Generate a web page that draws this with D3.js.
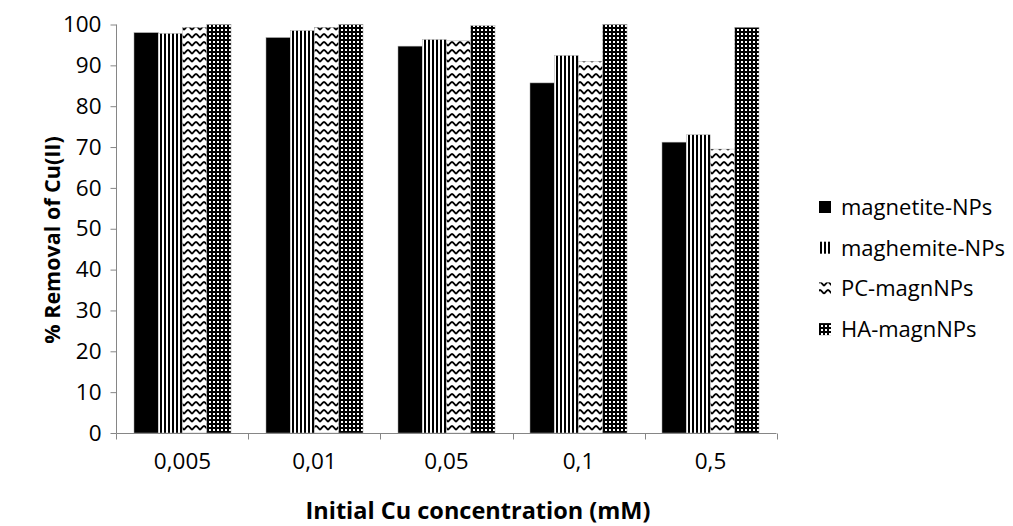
<!DOCTYPE html>
<html><head><meta charset="utf-8">
<script src="https://cdn.jsdelivr.net/npm/d3@7"></script>
<style>body{margin:0;background:#fff;} svg{display:block;font-family:"Open Sans",sans-serif;}</style>
</head><body>
<svg id="c" width="1013" height="526"></svg>
<script>
const categories = ["0,005","0,01","0,05","0,1","0,5"];
const seriesNames = ["magnetite-NPs","maghemite-NPs","PC-magnNPs","HA-magnNPs"];
const magnetite = [98.0, 96.8, 94.7, 85.7, 71.2];
const maghemite = [97.8, 98.5, 96.3, 92.4, 73.0];
const pcMagn    = [99.3, 99.3, 96.0, 91.0, 69.5];
const haMagn    = [100, 100, 99.7, 100, 99.3];
const yTicks = [0,10,20,30,40,50,60,70,80,90,100];
const values = [magnetite, maghemite, pcMagn, haMagn];

const svg = d3.select("#c");
const defs = svg.append("defs");
// patterns
const p0 = defs.append("pattern").attr("id","pat0").attr("patternUnits","userSpaceOnUse").attr("width",4).attr("height",4);
p0.append("rect").attr("width",4).attr("height",4).attr("fill","#000");
const p1 = defs.append("pattern").attr("id","pat1").attr("patternUnits","userSpaceOnUse").attr("width",4).attr("height",4);
p1.append("rect").attr("width",4).attr("height",4).attr("fill","#fff");
p1.append("rect").attr("width",2).attr("height",4).attr("fill","#000");
const p2 = defs.append("pattern").attr("id","pat2").attr("patternUnits","userSpaceOnUse").attr("width",8).attr("height",8);
p2.append("rect").attr("width",8).attr("height",8).attr("fill","#fff");
p2.append("path").attr("d","M0,6 L1.5,4 L3,2.5 L4,2 L5,2.5 L6.5,4 L8,6").attr("fill","none").attr("stroke","#000").attr("stroke-width",1.8);
const p3 = defs.append("pattern").attr("id","pat3").attr("patternUnits","userSpaceOnUse").attr("width",4).attr("height",4);
p3.append("rect").attr("width",4).attr("height",4).attr("fill","#000");
p3.append("rect").attr("x",1).attr("y",1).attr("width",2).attr("height",2).attr("fill","#fff");
const fills = ["url(#pat0)","url(#pat1)","url(#pat2)","url(#pat3)"];

const x0 = d3.scaleBand().domain(categories).range([116.5,776.5]).paddingInner(0.265).paddingOuter(0.1325);
const x1 = d3.scaleBand().domain(seriesNames).range([0, x0.bandwidth()]);
const y = d3.scaleLinear().domain([0,100]).range([433, 24.5]);

// bars
const g = svg.append("g");
categories.forEach((c,ci)=>{
  seriesNames.forEach((s,si)=>{
    const v = values[si][ci];
    g.append("rect")
      .attr("x", x0(c)+x1(s)).attr("y", y(v))
      .attr("width", x1.bandwidth()).attr("height", y(0)-y(v))
      .attr("fill", fills[si]).attr("stroke","#aaa").attr("stroke-width",0.5);
  });
});

// y axis
const ya = svg.append("g").attr("transform","translate(116.5,0)")
  .call(d3.axisLeft(y).tickValues(yTicks).tickSize(6).tickPadding(9).tickFormat(d3.format("d")));
ya.selectAll("path,line").attr("stroke","#868686");
ya.selectAll("text").attr("font-size",22.5).attr("fill","#000").attr("font-family","'Open Sans',sans-serif");
ya.select(".domain").attr("d","M0,"+y(100)+"V"+y(0));

// x axis
const xa = svg.append("g").attr("transform","translate(0,433.5)")
  .call(d3.axisBottom(x0).tickSize(0).tickPadding(20));
xa.selectAll("path").attr("stroke","#868686");
xa.select(".domain").attr("d","M116.5,0H776.5");
xa.selectAll("text").attr("font-size",22.5).attr("fill","#000").attr("font-family","'Open Sans',sans-serif");
// boundary ticks
const bounds = categories.map(c=>x0(c)-x0.step()*x0.paddingInner()/2).concat([776.5]);
svg.append("g").selectAll("line").data(bounds).join("line")
  .attr("x1",d=>Math.round(d)+0.5).attr("x2",d=>Math.round(d)+0.5)
  .attr("y1",433.5).attr("y2",439.5).attr("stroke","#868686");

// titles
svg.append("text").attr("x",478).attr("y",519).attr("text-anchor","middle")
  .attr("font-size",23.5).attr("font-weight","bold").text("Initial Cu concentration (mM)");
svg.append("text").attr("transform","translate(60,240) rotate(-90)").attr("text-anchor","middle")
  .attr("font-size",21.5).attr("font-weight","bold").text("% Removal of Cu(II)");

// legend
const lg = svg.append("g");
seriesNames.forEach((s,i)=>{
  const cy = 207 + i*40.7;
  lg.append("rect").attr("x",819).attr("y",cy-6).attr("width",12).attr("height",12).attr("fill",fills[i]);
  lg.append("text").attr("x",841).attr("y",cy+8).attr("font-size",22).text(s);
});
</script>
</body></html>
